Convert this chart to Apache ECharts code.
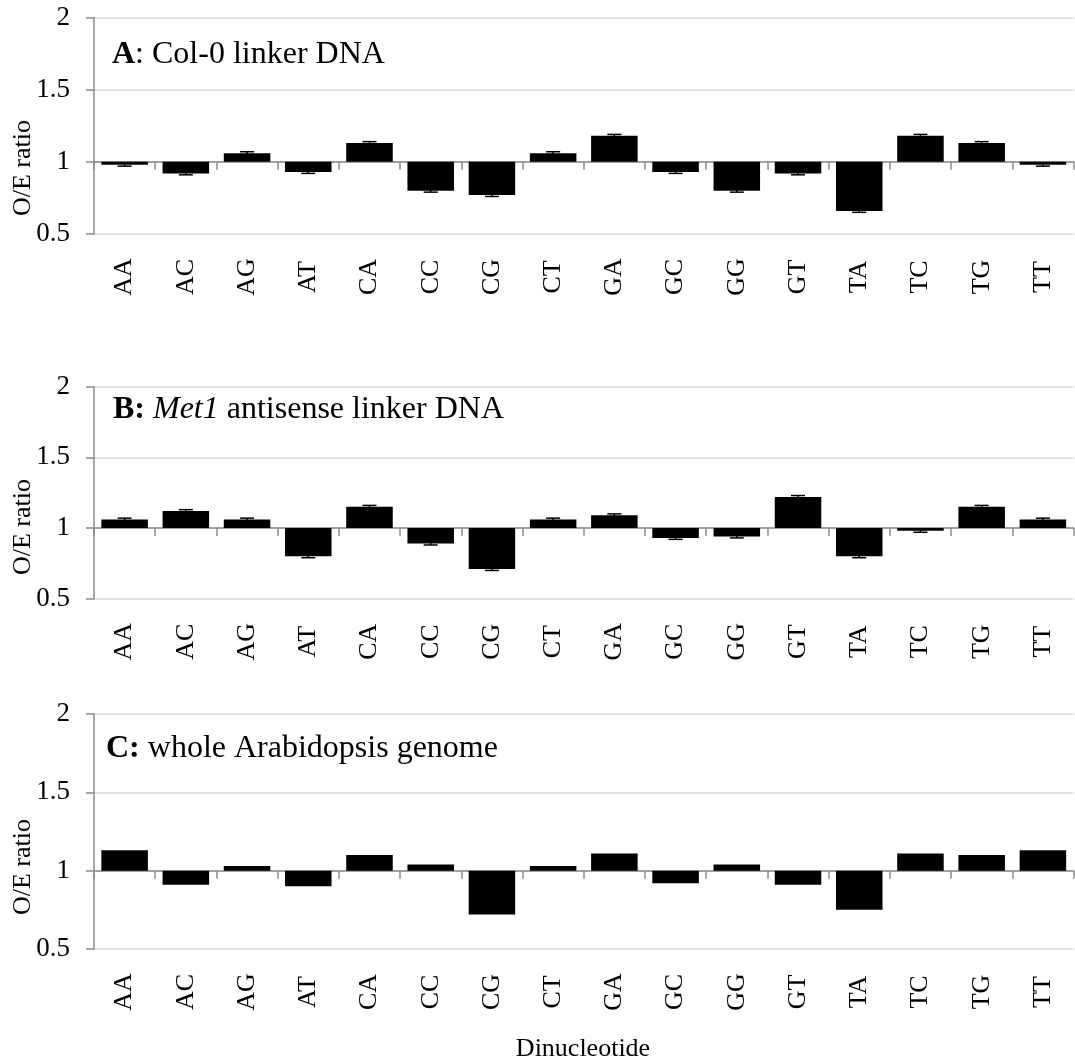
<!DOCTYPE html>
<html>
<head>
<meta charset="utf-8">
<script src="https://cdn.jsdelivr.net/npm/echarts@6/dist/echarts.min.js"></script>
<style>
html,body{margin:0;padding:0;background:#fff;}
#chart{width:1075px;height:1064px;}
</style>
</head>
<body>
<div id="chart"></div>
<script>
// ---- data ----
const categories = ['AA','AC','AG','AT','CA','CC','CG','CT','GA','GC','GG','GT','TA','TC','TG','TT'];
const valuesA = [0.98,0.92,1.06,0.93,1.13,0.80,0.77,1.06,1.18,0.93,0.80,0.92,0.66,1.18,1.13,0.98];
const valuesB = [1.06,1.12,1.06,0.80,1.15,0.89,0.71,1.06,1.09,0.93,0.94,1.22,0.80,0.98,1.15,1.06];
const valuesC = [1.13,0.91,1.03,0.90,1.10,1.04,0.72,1.03,1.11,0.92,1.04,0.91,0.75,1.11,1.10,1.13];
const errA = [0.01,0.01,0.01,0.01,0.01,0.01,0.01,0.01,0.01,0.01,0.01,0.01,0.01,0.01,0.01,0.01];
const errB = [0.01,0.01,0.01,0.01,0.01,0.01,0.01,0.01,0.01,0.01,0.01,0.01,0.01,0.01,0.01,0.01];
const yTickLabels = ['0.5','1','1.5','2'];
const baseline = 1;
const titles = ['{b|A}: Col-0 linker DNA', '{b|B:} {i|Met1} antisense linker DNA', '{b|C:} whole Arabidopsis genome'];
const yAxisName = 'O/E ratio';
const xAxisName = 'Dinucleotide';

// ---- layout ----
const FONT = "'Liberation Serif','Times New Roman',serif";
const panels = [
  {top: 17.5, height: 216.5, values: valuesA, err: errA, titleX: 112, titleY: 55, nameY: 168},
  {top: 386.7, height: 212, values: valuesB, err: errB, titleX: 113, titleY: 410, nameY: 527},
  {top: 714, height: 235, values: valuesC, err: null, titleX: 106, titleY: 749, nameY: 867}
];
const gridLeft = 94, gridRight = 1.5;
const axisGray = '#8c8c8c', gridGray = '#d9d9d9';

const chart = echarts.init(document.getElementById('chart'), null, {renderer: 'canvas'});

const grid = [], xAxis = [], yAxis = [], series = [], graphic = [];
panels.forEach((p, gi) => {
  grid.push({left: gridLeft, right: gridRight, top: p.top, height: p.height, containLabel: false, outerBoundsMode: 'none'});
  // axis line at O/E = 1 with ticks
  xAxis.push({
    type: 'category', gridIndex: gi, data: categories, position: 'bottom',
    axisLine: {show: true, onZero: true, lineStyle: {color: axisGray, width: 1.5}},
    axisTick: {show: true, length: 8, lineStyle: {color: axisGray, width: 1.5}},
    axisLabel: {show: false}, splitLine: {show: false}
  });
  // labels at the bottom
  xAxis.push({
    type: 'category', gridIndex: gi, data: categories, position: 'bottom',
    axisLine: {show: false, onZero: false}, axisTick: {show: false},
    axisLabel: {show: true, rotate: 90, align: 'center', verticalAlign: 'middle', margin: 43,
      fontSize: 26, fontFamily: FONT, color: '#000'},
    splitLine: {show: false}
  });
  yAxis.push({
    type: 'value', gridIndex: gi, min: -0.5, max: 1, interval: 0.5,
    axisLine: {show: true, lineStyle: {color: axisGray, width: 1.5}},
    axisTick: {show: true, length: 8, lineStyle: {color: axisGray, width: 1.5}},
    axisLabel: {margin: 24, fontSize: 27, fontFamily: FONT, color: '#000',
      formatter: v => yTickLabels[Math.round((v + 0.5) / 0.5)]},
    splitLine: {show: true, lineStyle: {color: gridGray, width: 1.5}}
  });
  series.push({
    type: 'bar', xAxisIndex: gi * 2, yAxisIndex: gi,
    data: p.values.map(v => +(v - baseline).toFixed(4)),
    barCategoryGap: '24%',
    itemStyle: {color: '#000'},
    silent: true, z: 2
  });
  if (p.err) {
    series.push({
      type: 'custom', xAxisIndex: gi * 2, yAxisIndex: gi,
      data: p.values.map((v, i) => [i, v - baseline, p.err[i]]),
      renderItem: (params, api) => {
        const x = api.value(0), y = api.value(1), e = api.value(2);
        const hi = api.coord([x, y + e]), lo = api.coord([x, y - e]);
        const cw = 7;
        return {type: 'group', children: [
          {type: 'line', shape: {x1: hi[0], y1: hi[1], x2: lo[0], y2: lo[1]}, style: {stroke: '#000', lineWidth: 1.5}},
          {type: 'line', shape: {x1: hi[0] - cw, y1: hi[1], x2: hi[0] + cw, y2: hi[1]}, style: {stroke: '#000', lineWidth: 1.5}},
          {type: 'line', shape: {x1: lo[0] - cw, y1: lo[1], x2: lo[0] + cw, y2: lo[1]}, style: {stroke: '#000', lineWidth: 1.5}}
        ]};
      },
      silent: true, z: 3
    });
  }
  graphic.push({
    type: 'text', x: p.titleX, y: p.titleY,
    style: {
      text: titles[gi], fontSize: 32, fontFamily: FONT, fill: '#000', textVerticalAlign: 'middle',
      rich: {
        b: {fontWeight: 'bold', fontSize: 32, fontFamily: FONT, fill: '#000'},
        i: {fontStyle: 'italic', fontSize: 32, fontFamily: FONT, fill: '#000'}
      }
    }
  });
  graphic.push({
    type: 'text', x: 23, y: p.nameY, rotation: Math.PI / 2,
    style: {text: yAxisName, fontSize: 26, fontFamily: FONT, fill: '#000', textAlign: 'center', textVerticalAlign: 'middle'}
  });
});
graphic.push({
  type: 'text', x: 583, y: 1049,
  style: {text: xAxisName, fontSize: 26, fontFamily: FONT, fill: '#000', textAlign: 'center', textVerticalAlign: 'middle'}
});

chart.setOption({
  animation: false,
  backgroundColor: '#fff',
  grid, xAxis, yAxis, series, graphic
});
</script>
</body>
</html>
